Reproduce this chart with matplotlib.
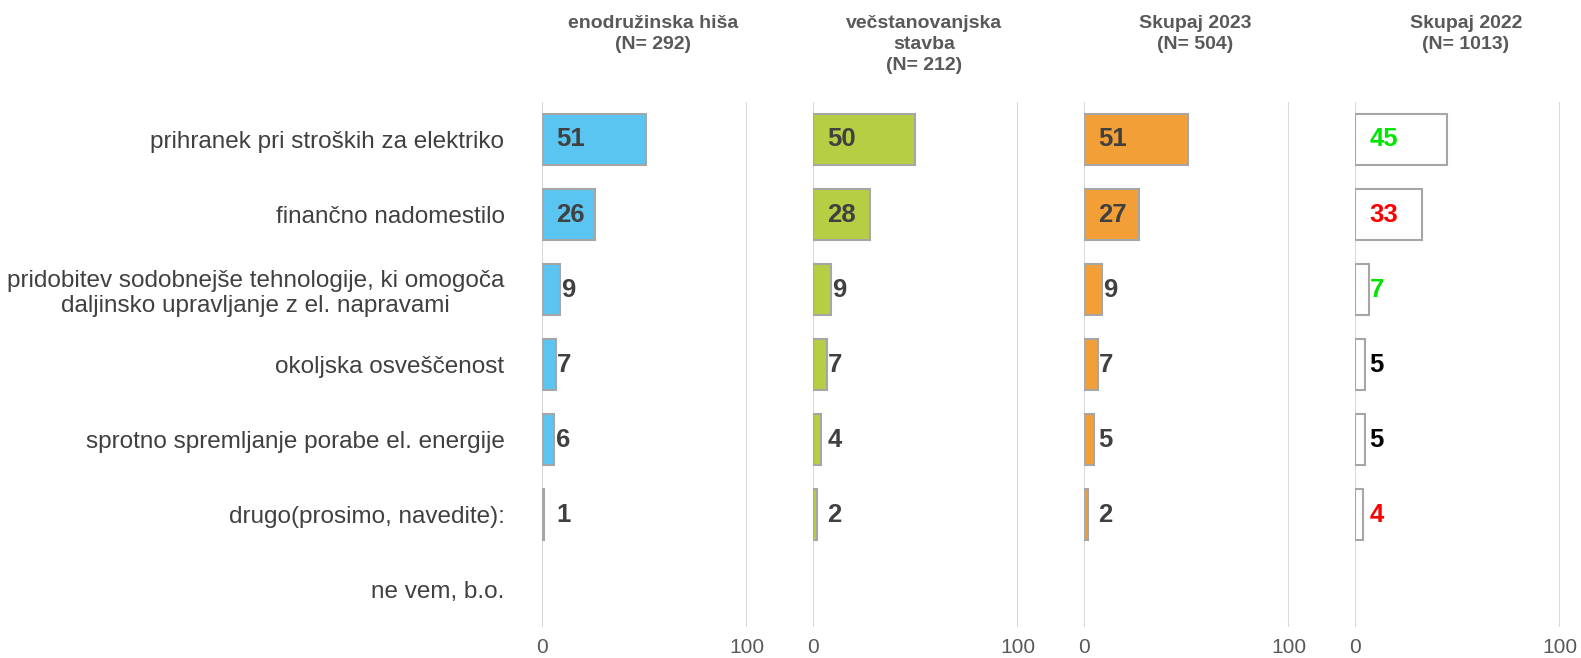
import numpy as np
import matplotlib
matplotlib.use('Agg')
import matplotlib.pyplot as plt

plt.rcParams['font.family'] = ['Liberation Sans', 'DejaVu Sans']

kategorije = ['prihranek pri stroških za elektriko',
              'finančno nadomestilo',
              'pridobitev sodobnejše tehnologije, ki omogoča\ndaljinsko upravljanje z el. napravami',
              'okoljska osveščenost',
              'sprotno spremljanje porabe el. energije',
              'drugo(prosimo, navedite):',
              'ne vem, b.o.']

naslovi = ['enodružinska hiša\n(N= 292)',
           'večstanovanjska\nstavba\n(N= 212)',
           'Skupaj 2023\n(N= 504)',
           'Skupaj 2022\n(N= 1013)']

hisa = [51, 26, 9, 7, 6, 1, np.nan]
stavba = [50, 28, 9, 7, 4, 2, np.nan]
skupaj2023 = [51, 27, 9, 7, 5, 2, np.nan]
skupaj2022 = [45, 33, 7, 5, 5, 4, np.nan]

barve = ['#5bc5f2', '#b5ce44', '#f39f37', 'white']
barve_2022 = ['#00e600', '#ff0000', '#00e600', 'black', 'black', '#ff0000', 'black']

serije = [hisa, stavba, skupaj2023, skupaj2022]

fig = plt.figure(figsize=(15.81, 6.58), dpi=100)
y = np.arange(len(kategorije))

levo = [542, 813, 1084, 1355]
for i, vrednosti in enumerate(serije):
    ax = fig.add_axes([levo[i] / 1581, 0.047, 204.5 / 1581, 0.798])
    ax.barh(y, vrednosti, height=0.68, color=barve[i], edgecolor='#a6a6a6',
            linewidth=1.5, zorder=2)
    ax.set_xlim(0, 100)
    ax.set_ylim(len(kategorije) - 0.5, -0.5)
    ax.set_xticks([0, 100])
    ax.grid(axis='x', color='#d9d9d9', linewidth=1.5, zorder=0)
    ax.tick_params(axis='x', length=0, labelsize=15, labelcolor='#595959', pad=8)
    for s in ax.spines.values():
        s.set_visible(False)
    if i == 0:
        ax.set_yticks(y)
        ax.set_yticklabels(kategorije, fontsize=17.5, color='#404040',
                           multialignment='center')
        ax.tick_params(axis='y', length=0, pad=27)
    else:
        ax.set_yticks([])
    for j, v in enumerate(vrednosti):
        if np.isnan(v):
            continue
        c = barve_2022[j] if i == 3 else '#404040'
        # oznaka na zacetku stolpca, pri kratkih stolpcih takoj za njim
        xpos = 7 if v >= 20 else max(7, v + 0.4)
        ax.text(xpos, j, '%d' % v, ha='left', va='center', fontsize=18.5,
                fontweight='bold', color=c, zorder=3)
    fig.text((levo[i] + 111) / 1581, 1 - 15 / 658, naslovi[i], ha='center', va='top',
             fontsize=14, fontweight='bold', color='#595959', linespacing=1.3)

fig.savefig('out.png', dpi=100)
